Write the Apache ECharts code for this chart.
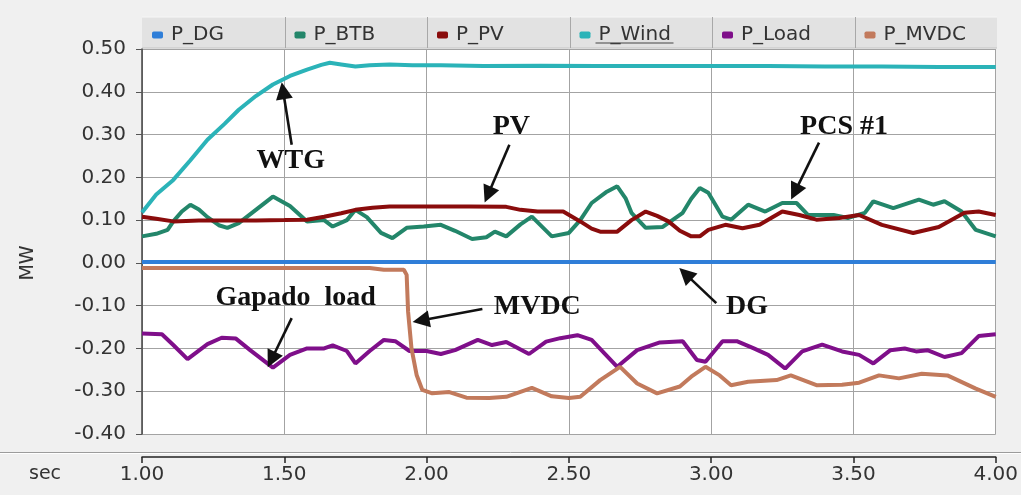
<!DOCTYPE html>
<html>
<head>
<meta charset="utf-8">
<script src="https://cdn.jsdelivr.net/npm/echarts@6/dist/echarts.min.js"></script>
<style>html,body{margin:0;padding:0;background:#f0f0f0;}#c{width:1021px;height:495px;}</style>
</head>
<body>
<div id="c"></div>
<script>
// ---- data ----
const seriesNames = ['P_DG','P_BTB','P_PV','P_Wind','P_Load','P_MVDC'];
const xTicks = [1.0, 4.0, 0.5];   // min, max, interval (sec)
const yTicks = [-0.4, 0.5, 0.1];  // min, max, interval (MW)

const tDG = [1.0, 2.0, 3.0, 4.0];
const vDG = [0.002, 0.002, 0.002, 0.002];

const tBTB = [1.00,1.05,1.09,1.11,1.14,1.17,1.20,1.23,1.27,1.30,1.34,1.40,1.46,1.52,1.58,1.64,1.67,1.72,1.75,1.79,1.84,1.88,1.93,1.99,2.05,2.10,2.16,2.21,2.24,2.28,2.33,2.37,2.44,2.50,2.54,2.58,2.63,2.67,2.70,2.72,2.77,2.83,2.90,2.93,2.96,2.99,3.04,3.07,3.13,3.19,3.25,3.30,3.34,3.43,3.48,3.54,3.57,3.64,3.73,3.78,3.82,3.88,3.93,4.00];
const vBTB = [0.062,0.068,0.077,0.097,0.120,0.136,0.125,0.107,0.088,0.082,0.093,0.124,0.155,0.133,0.097,0.100,0.085,0.100,0.124,0.107,0.070,0.058,0.082,0.085,0.089,0.075,0.056,0.060,0.073,0.062,0.090,0.108,0.062,0.070,0.100,0.140,0.165,0.179,0.150,0.117,0.082,0.084,0.117,0.150,0.175,0.164,0.108,0.101,0.136,0.120,0.140,0.140,0.112,0.112,0.105,0.117,0.144,0.128,0.148,0.136,0.144,0.120,0.077,0.062];

const tPV = [1.00,1.05,1.11,1.20,1.30,1.40,1.50,1.58,1.64,1.70,1.75,1.81,1.87,2.00,2.15,2.28,2.33,2.39,2.48,2.54,2.58,2.61,2.67,2.72,2.77,2.81,2.85,2.89,2.93,2.96,2.99,3.05,3.11,3.17,3.25,3.31,3.37,3.45,3.52,3.60,3.71,3.80,3.89,3.94,4.00];
const vPV = [0.108,0.103,0.097,0.099,0.099,0.099,0.100,0.101,0.108,0.116,0.124,0.129,0.132,0.132,0.132,0.131,0.124,0.120,0.120,0.097,0.080,0.073,0.073,0.100,0.120,0.110,0.097,0.075,0.062,0.062,0.077,0.089,0.081,0.089,0.120,0.112,0.101,0.105,0.112,0.089,0.070,0.084,0.117,0.120,0.112];

const tWind = [1.00,1.05,1.11,1.17,1.23,1.29,1.34,1.40,1.46,1.52,1.58,1.63,1.66,1.70,1.75,1.80,1.87,1.95,2.05,2.20,2.40,2.60,2.80,3.00,3.20,3.40,3.60,3.80,4.00];
const vWind = [0.118,0.160,0.194,0.240,0.288,0.325,0.358,0.390,0.417,0.437,0.452,0.463,0.468,0.464,0.459,0.462,0.464,0.462,0.462,0.460,0.461,0.460,0.460,0.460,0.460,0.459,0.459,0.458,0.458];

const tLoad = [1.00,1.07,1.11,1.16,1.23,1.28,1.33,1.38,1.46,1.52,1.58,1.64,1.67,1.72,1.75,1.80,1.85,1.89,1.94,2.00,2.05,2.10,2.18,2.23,2.28,2.36,2.42,2.47,2.53,2.58,2.67,2.74,2.82,2.90,2.95,2.98,3.04,3.09,3.15,3.20,3.26,3.32,3.39,3.46,3.52,3.57,3.63,3.68,3.72,3.76,3.82,3.88,3.94,4.00];
const vLoad = [-0.165,-0.167,-0.192,-0.225,-0.190,-0.175,-0.177,-0.204,-0.245,-0.215,-0.200,-0.200,-0.193,-0.206,-0.235,-0.206,-0.180,-0.183,-0.206,-0.206,-0.213,-0.204,-0.180,-0.192,-0.185,-0.213,-0.184,-0.176,-0.169,-0.180,-0.243,-0.204,-0.186,-0.183,-0.227,-0.231,-0.183,-0.183,-0.200,-0.215,-0.247,-0.207,-0.191,-0.207,-0.215,-0.235,-0.204,-0.200,-0.207,-0.204,-0.220,-0.211,-0.171,-0.167];

const tMVDC = [1.00,1.50,1.80,1.85,1.92,1.93,1.935,1.947,1.965,1.985,2.02,2.08,2.14,2.22,2.28,2.37,2.44,2.50,2.54,2.61,2.68,2.74,2.81,2.89,2.93,2.98,3.03,3.07,3.13,3.23,3.28,3.37,3.46,3.52,3.59,3.66,3.74,3.83,3.93,4.00];
const vMVDC = [-0.012,-0.012,-0.012,-0.016,-0.016,-0.028,-0.114,-0.200,-0.262,-0.297,-0.305,-0.302,-0.315,-0.316,-0.313,-0.292,-0.312,-0.316,-0.313,-0.274,-0.243,-0.282,-0.305,-0.289,-0.266,-0.243,-0.263,-0.286,-0.278,-0.274,-0.263,-0.286,-0.285,-0.280,-0.263,-0.270,-0.259,-0.263,-0.294,-0.313];

// annotations: label, label position [t,v], arrow start [t,v], arrow tip [t,v]
const annLabels = ['WTG','PV','PCS #1','DG','MVDC','Gapado  load'];
const annText  = [[1.523,0.239],[2.298,0.318],[3.467,0.318],[3.126,-0.103],[2.389,-0.103],[1.540,-0.082]];
const annFrom  = [[1.526,0.276],[2.291,0.276],[3.379,0.281],[3.018,-0.094],[2.196,-0.108],[1.526,-0.129]];
const annTip   = [[1.491,0.422],[2.204,0.141],[3.281,0.148],[2.888,-0.012],[1.951,-0.138],[1.442,-0.244]];

// ---- styles ----
const colors = ['#2f7ed8','#23866a','#8a0c0c','#2bb3b8','#7f0f8a','#c27a5c'];
const G = {left:142, right:24, top:49, bottom:61};
const W = 1021, H = 495;
const plotW = W - G.left - G.right;
const cellW = plotW / 6;
const sansFont = '"DejaVu Sans", sans-serif';

function zip(t, v){ return t.map((x,i)=>[x, v[i]]); }
const allData = [zip(tDG,vDG), zip(tBTB,vBTB), zip(tPV,vPV), zip(tWind,vWind), zip(tLoad,vLoad), zip(tMVDC,vMVDC)];
const fmt = v => (Math.abs(v) < 1e-9 ? 0 : v).toFixed(2);

const chart = echarts.init(document.getElementById('c'), null, {renderer:'canvas'});

const deco = [
  {type:'rect', shape:{x:G.left, y:17, width:plotW, height:31}, style:{fill:'#e2e2e2'}, z:-1, silent:true},
  {type:'line', shape:{x1:G.left, y1:17, x2:G.left+plotW, y2:17}, style:{stroke:'#f7f7f7', lineWidth:1}, silent:true},
  {type:'line', shape:{x1:G.left, y1:48, x2:G.left+plotW, y2:48}, style:{stroke:'#c4c4c4', lineWidth:1}, silent:true},
  {type:'line', shape:{x1:0, y1:452.5, x2:W, y2:452.5}, style:{stroke:'#9c9c9c', lineWidth:1}, silent:true},
  {type:'line', shape:{x1:0, y1:453.5, x2:W, y2:453.5}, style:{stroke:'#ffffff', lineWidth:1}, silent:true},
  {type:'text', x:28, y:263, rotation:Math.PI/2, style:{text:'MW', font:'19px '+sansFont, fill:'#333', align:'center', verticalAlign:'middle', textAlign:'center', textVerticalAlign:'middle'}, silent:true},
  {type:'text', x:45, y:474, style:{text:'sec', font:'19px '+sansFont, fill:'#333', align:'center', verticalAlign:'middle', textAlign:'center', textVerticalAlign:'middle'}, silent:true}
];
for (let i=1;i<6;i++){
  const x = Math.round(G.left + i*cellW) + 0.5;
  deco.push({type:'line', shape:{x1:x, y1:17, x2:x, y2:48}, style:{stroke:'#a8a8a8', lineWidth:1}, silent:true});
}

const option = {
  backgroundColor:'#f0f0f0',
  animation:false,
  grid:{left:G.left, right:G.right, top:G.top, bottom:G.bottom, show:true, backgroundColor:'#ffffff', borderWidth:0},
  legend: seriesNames.map((n,i)=>({
    data:[n], left: G.left + i*cellW + 5, top: 20, icon:'roundRect', itemWidth:11, itemHeight:7,
    selectedMode:false, textStyle:{fontSize:20, fontFamily:'DejaVu Sans', color:'#333', padding:[0,0,0,3]}
  })),
  xAxis:{
    type:'value', min:xTicks[0], max:xTicks[1], interval:xTicks[2], offset:23,
    axisLine:{show:true, onZero:false, lineStyle:{color:'#222', width:1.5}},
    axisTick:{show:true, length:6, lineStyle:{color:'#222', width:1.5}},
    axisLabel:{formatter:fmt, fontSize:20, fontFamily:'DejaVu Sans', color:'#333', margin:8},
    splitLine:{show:true, lineStyle:{color:'#a3a3a3', width:1}}
  },
  yAxis:{
    type:'value', min:yTicks[0], max:yTicks[1], interval:yTicks[2],
    axisLine:{show:true, onZero:false, lineStyle:{color:'#444', width:1.5}},
    axisTick:{show:true, length:6, lineStyle:{color:'#555'}},
    axisLabel:{formatter:fmt, fontSize:20, fontFamily:'DejaVu Sans', color:'#333', margin:16},
    splitLine:{show:true, lineStyle:{color:'#a3a3a3', width:1}}
  },
  series: seriesNames.map((n,i)=>({
    name:n, type:'line', data:allData[i], showSymbol:false, symbol:'none',
    lineStyle:{width:4, color:colors[i]}, itemStyle:{color:colors[i]}, z:3+i
  })),
  graphic: deco
};
chart.setOption(option);

// annotations placed through the chart's own coordinate system
const ann = [];
const font = 'bold 28px "Liberation Serif", "Times New Roman", serif';
for (let i=0;i<annLabels.length;i++){
  const p = chart.convertToPixel({gridIndex:0}, annText[i]);
  const s = chart.convertToPixel({gridIndex:0}, annFrom[i]);
  const e = chart.convertToPixel({gridIndex:0}, annTip[i]);
  const dx = e[0]-s[0], dy = e[1]-s[1], len = Math.hypot(dx,dy);
  const ux = dx/len, uy = dy/len, nx = -uy, ny = ux;
  const L = 17, HW = 8.5;
  const b = [e[0]-L*ux, e[1]-L*uy];
  ann.push({type:'line', shape:{x1:s[0], y1:s[1], x2:b[0]+ux*2, y2:b[1]+uy*2}, style:{stroke:'#111', lineWidth:2.6}, z:100, silent:true});
  ann.push({type:'polygon', shape:{points:[e, [b[0]+HW*nx, b[1]+HW*ny], [b[0]-HW*nx, b[1]-HW*ny]]}, style:{fill:'#111'}, z:100, silent:true});
  ann.push({type:'text', x:p[0], y:p[1], style:{text:annLabels[i], font:font, fill:'#111', align:'center', verticalAlign:'middle', textAlign:'center', textVerticalAlign:'middle'}, z:100, silent:true});
}
// underline under the highlighted legend entry (P_Wind)
ann.push({type:'line', shape:{x1:G.left+3*cellW+26, y1:43, x2:G.left+3*cellW+26+78, y2:43}, style:{stroke:'#444', lineWidth:1}, z:100, silent:true});
chart.setOption({graphic: deco.concat(ann)});
</script>
</body>
</html>
